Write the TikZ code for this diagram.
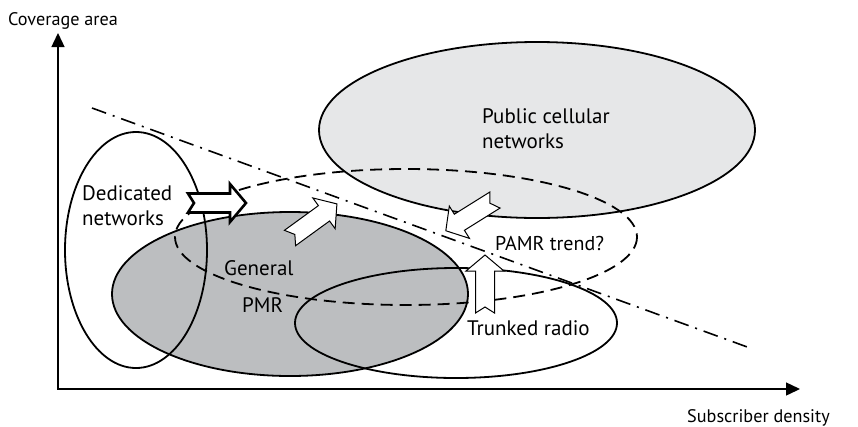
\documentclass[tikz,border=0pt]{standalone}
\usepackage{fontspec}
\setmainfont{PT Sans}
\usetikzlibrary{arrows.meta}

\definecolor{cellgray}{RGB}{230,231,232}
\definecolor{pmrgray}{RGB}{188,190,192}

\tikzset{
  outline/.style={line width=1.8pt},
  trend/.style={line width=1.8pt, dash pattern=on 12pt off 7pt},
  limit/.style={line width=1.6pt, dash pattern=on 15pt off 7pt on 2pt off 7pt},
  axis/.style={line width=1.4pt, -{Triangle[width=13pt,length=14pt]}},
  lbl/.style={inner sep=0pt, anchor=base west, font=\fontsize{21}{25}\selectfont},
  axislbl/.style={lbl, font=\fontsize{18.2}{22}\selectfont},
  % notched block arrow, tail at the origin, pointing along +x
  blockarrow/.pic={
    \filldraw[fill=white, line join=miter]
      (0pt,9.5pt) -- (42pt,9.5pt) -- (42pt,19pt) -- (58pt,0pt)
      -- (42pt,-19pt) -- (42pt,-9.5pt) -- (0pt,-9.5pt) -- (6pt,0pt) -- cycle;
  }
}

\begin{document}
\begin{tikzpicture}[x=1pt, y=-1pt]
\useasboundingbox (0,0) rectangle (858,426);

% market segments
\filldraw[outline, fill=cellgray] (537,130) ellipse [x radius=218, y radius=88];
\filldraw[outline, fill=pmrgray] (290,294) ellipse [x radius=178, y radius=82];
\draw[outline] (136,250) ellipse [x radius=71, y radius=118];
\draw[outline] (456,323) ellipse [x radius=161, y radius=55];
\draw[trend] (406,237) ellipse [x radius=231, y radius=68];

% boundary line
\coordinate (l1) at (92,108);
\coordinate (l2) at (750,348);
\draw[limit] (l1) -- (l2);

% migration arrows
\pic[line width=2.6pt] at (188,203) {blockarrow};
\pic[line width=1pt, rotate=36] at (290,238) {blockarrow};
\pic[line width=1pt, rotate=212] at (495,200) {blockarrow};
\pic[line width=1pt, rotate=90] at (485,313) {blockarrow};

% labels
\node[lbl] (ded1) at (82,200) {Dedicated};
\node[lbl] (ded2) at (82,225) {networks};
\node[lbl] (gen1) at (224,275) {General};
\node[lbl] (gen2) at (242,312) {PMR};
\node[lbl] (pub1) at (482,123) {Public cellular};
\node[lbl] (pub2) at (482,148) {networks};
\node[lbl, font=\fontsize{20}{24}\selectfont] (pamr) at (495,250) {PAMR trend?};
\node[lbl] (trk) at (467,335) {Trunked radio};

% axes
\coordinate (O) at (58,389);
\coordinate (ytip) at (58,33);
\coordinate (xtip) at (800,389);
\draw[axis] (58,389.7) -- (ytip);
\draw[axis] (57.3,389) -- (xtip);
\node[axislbl] (ylab) at (8,25) {Coverage area};
\node[axislbl] (xlab) at (687,422) {Subscriber density};
\end{tikzpicture}
\end{document}
